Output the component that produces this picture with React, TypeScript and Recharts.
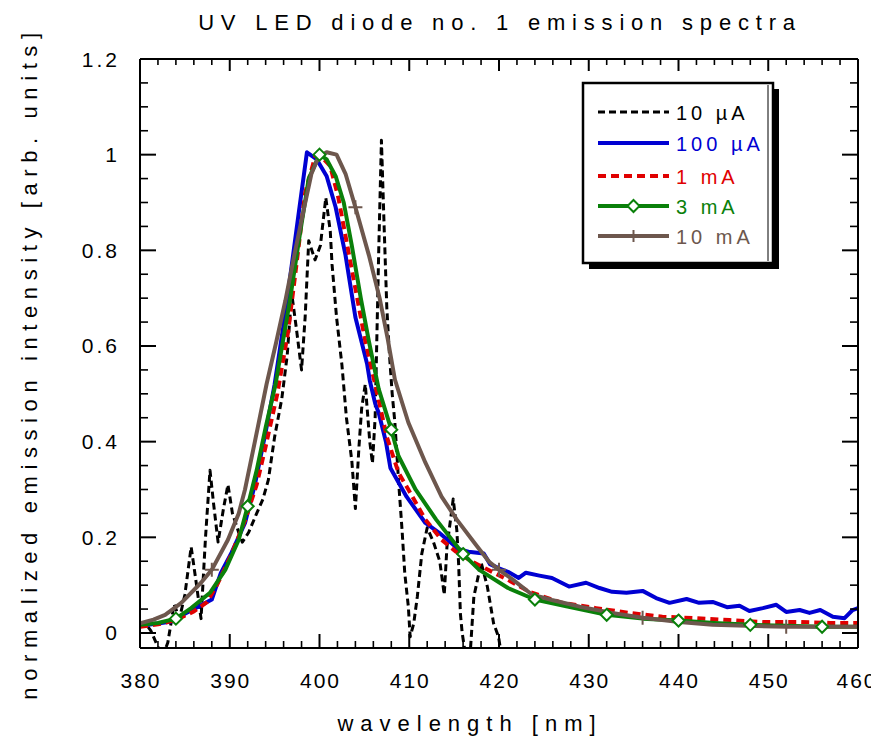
import React from 'react';
import { LineChart, Line, XAxis, YAxis } from 'recharts';

const W = 871;
const H = 733;
const FONT = '"Liberation Sans", Arial, Helvetica, sans-serif';

// ---- data: 10 µA (noisy, dashed black) ----
const wl10uA = [380, 380.6, 381.2, 381.9, 382.5, 383.1, 383.8, 384.4, 385.0, 385.7, 386.3, 386.8, 387.3, 387.8, 388.2, 388.7, 389.3, 389.8, 390.3, 391.0, 391.4, 392.1, 393.0, 393.7, 394.3, 395.0, 395.8, 396.4, 396.9, 397.4, 398.0, 398.4, 398.8, 399.5, 400.1, 400.7, 401.2, 401.4, 401.9, 402.5, 403.0, 403.6, 404.0, 404.4, 404.7, 405.1, 405.6, 405.9, 406.2, 406.6, 406.9, 407.2, 407.5, 407.8, 408.1, 408.4, 408.8, 409.2, 409.5, 409.9, 410.1, 410.5, 410.9, 411.4, 412.0, 412.7, 413.4, 413.9, 414.2, 414.9, 415.3, 415.5, 415.7, 415.9, 416.3, 416.8, 417.2, 417.7, 418.0, 418.7, 419.4, 419.95, 420.3];
const int10uA = [0.012, 0.02, 0.005, -0.025, -0.05, -0.02, 0.06, 0.03, 0.08, 0.18, 0.1, 0.03, 0.2, 0.34, 0.27, 0.19, 0.26, 0.31, 0.25, 0.21, 0.19, 0.21, 0.25, 0.28, 0.32, 0.41, 0.49, 0.58, 0.71, 0.64, 0.55, 0.66, 0.82, 0.78, 0.81, 0.91, 0.84, 0.77, 0.66, 0.56, 0.45, 0.36, 0.26, 0.39, 0.47, 0.52, 0.4, 0.355, 0.45, 0.8, 1.03, 0.85, 0.68, 0.58, 0.5, 0.44, 0.32, 0.215, 0.125, 0.055, -0.008, 0.02, 0.076, 0.166, 0.22, 0.19, 0.15, 0.08, 0.18, 0.28, 0.215, 0.145, 0.04, 0.0, -0.05, -0.04, 0.076, 0.12, 0.148, 0.097, 0.02, -0.008, -0.05];

// ---- data: 100 µA (blue) ----
const wl100uA = [380, 382, 383.5, 385, 386.5, 388, 389, 390.2, 391.7, 392.8, 394, 395, 396.2, 397.7, 398.6, 399.7, 400.8, 401.8, 402.9, 404, 405.3, 405.6, 406.2, 406.6, 407.4, 407.9, 409.7, 411.8, 413.3, 415.5, 416.6, 418.3, 419.0, 420, 421, 422.2, 423, 424.5, 425.9, 427.8, 429.7, 431.2, 432.6, 434.2, 436, 437.5, 439, 440.9, 442.3, 443.8, 445.4, 446.8, 447.9, 449.4, 450.9, 452, 453.5, 454.6, 455.8, 457.2, 458.5, 459.4, 460];
const int100uA = [0.015, 0.02, 0.024, 0.04, 0.055, 0.07, 0.125, 0.168, 0.23, 0.31, 0.42, 0.52, 0.67, 0.88, 1.005, 0.99, 0.955, 0.89, 0.79, 0.66, 0.563, 0.528, 0.48, 0.46, 0.4, 0.345, 0.285, 0.23, 0.21, 0.175, 0.17, 0.166, 0.144, 0.135, 0.128, 0.115, 0.126, 0.12, 0.115, 0.097, 0.105, 0.094, 0.086, 0.084, 0.088, 0.073, 0.063, 0.071, 0.063, 0.065, 0.054, 0.057, 0.046, 0.052, 0.059, 0.044, 0.048, 0.042, 0.048, 0.034, 0.031, 0.048, 0.052];

// ---- data: 1 mA (red dashed) ----
const wl1mA = [380, 382, 384, 386, 387.5, 388.7, 390.2, 391.7, 393, 394, 395.3, 396.5, 397.3, 398.4, 399.5, 400, 401.2, 402.1, 403, 404, 405.1, 406.2, 407.5, 408.8, 409.9, 411.8, 413.6, 415.2, 417, 421, 423.4, 427, 430.8, 434.5, 438.2, 442, 445.7, 449.4, 453.2, 456.9, 460];
const int1mA = [0.013, 0.018, 0.027, 0.045, 0.065, 0.105, 0.165, 0.235, 0.31, 0.39, 0.5, 0.63, 0.75, 0.92, 0.995, 1.0, 0.976, 0.91, 0.82, 0.72, 0.61, 0.52, 0.41, 0.335, 0.3, 0.237, 0.195, 0.17, 0.149, 0.111, 0.086, 0.063, 0.052, 0.042, 0.034, 0.031, 0.027, 0.023, 0.023, 0.021, 0.021];

// ---- data: 3 mA (green, diamond markers) ----
const wl3mA = [380, 382, 384, 385.7, 387.8, 389.5, 391, 392, 393, 394, 395.1, 396.7, 397.7, 398.8, 400, 400.8, 401.8, 402.7, 403.6, 404.6, 405.5, 406.6, 408, 408.8, 410.7, 413, 416, 417.8, 421, 424, 427.5, 432, 436, 440, 444, 448, 452, 456, 460];
const int3mA = [0.017, 0.021, 0.03, 0.052, 0.084, 0.132, 0.195, 0.265, 0.34, 0.43, 0.52, 0.695, 0.82, 0.95, 1.0, 0.99, 0.955, 0.9, 0.81, 0.7, 0.61, 0.51, 0.425, 0.37, 0.3, 0.237, 0.165, 0.132, 0.094, 0.07, 0.056, 0.038, 0.03, 0.026, 0.021, 0.017, 0.015, 0.013, 0.013];
const markers3mA = [384, 392, 400, 408, 416, 424, 432, 440, 448, 456];

// ---- data: 10 mA (brown, cross markers) ----
const wl10mA = [380, 381.5, 382.8, 384.6, 386.8, 388, 389.8, 391, 391.7, 392.8, 394.1, 395.2, 396.2, 397.3, 398.3, 399.1, 399.9, 400.8, 401.9, 402.9, 404, 405.5, 406.7, 407.6, 408.4, 409.9, 411.8, 413.6, 415.3, 417.4, 418.9, 420, 421.5, 423.7, 425.9, 429, 432.6, 436, 440.1, 443.8, 447.6, 452, 455, 460];
const int10mA = [0.02, 0.028, 0.038, 0.063, 0.105, 0.132, 0.195, 0.25, 0.3, 0.4, 0.52, 0.61, 0.695, 0.8, 0.89, 0.96, 0.995, 1.005, 1.0, 0.96, 0.89, 0.79, 0.7, 0.615, 0.53, 0.44, 0.356, 0.285, 0.237, 0.185, 0.149, 0.132, 0.112, 0.08, 0.069, 0.055, 0.042, 0.032, 0.023, 0.017, 0.015, 0.013, 0.013, 0.013];
const markers10mA = [388, 404, 420, 436, 452];

// ---- axes ----
const xTicks = [380, 382, 384, 386, 388, 390, 392, 394, 396, 398, 400, 402, 404, 406, 408, 410, 412, 414, 416, 418, 420, 422, 424, 426, 428, 430, 432, 434, 436, 438, 440, 442, 444, 446, 448, 450, 452, 454, 456, 458, 460];
const xLabels = [380, 390, 400, 410, 420, 430, 440, 450, 460];
const yTicks = [0, 0.05, 0.1, 0.15, 0.2, 0.25, 0.3, 0.35, 0.4, 0.45, 0.5, 0.55, 0.6, 0.65, 0.7, 0.75, 0.8, 0.85, 0.9, 0.95, 1, 1.05, 1.1, 1.15, 1.2];
const yLabels = ['0', '0.2', '0.4', '0.6', '0.8', '1', '1.2'];

const toPoints = (xs: number[], ys: number[]) => xs.map((x, i) => ({ x, y: ys[i] }));

const series = [
  { name: '10 µA', color: '#000000', dash: '7 4', width: 3, data: toPoints(wl10uA, int10uA), marker: 'none' },
  { name: '100 µA', color: '#0000d2', dash: undefined, width: 4, data: toPoints(wl100uA, int100uA), marker: 'none' },
  { name: '1 mA', color: '#e00000', dash: '8 5', width: 4, data: toPoints(wl1mA, int1mA), marker: 'none' },
  { name: '3 mA', color: '#0a800a', dash: undefined, width: 4, data: toPoints(wl3mA, int3mA), marker: 'diamond' },
  { name: '10 mA', color: '#6d574d', dash: undefined, width: 4, data: toPoints(wl10mA, int10mA), marker: 'cross' },
];

const isMajorX = (v: number) => xLabels.includes(v);
const yLabelFor = (v: number) => yLabels.find((l) => Math.abs(parseFloat(l) - v) < 1e-6);

const BottomTick = (props: any) => {
  const { x, y, payload } = props;
  const v = payload.value;
  const major = isMajorX(v);
  return (
    <g>
      <line x1={x} y1={y} x2={x} y2={y - (major ? 14 : 7)} stroke="#000" strokeWidth={major ? 2 : 1.6} />
      {major && (
        <text x={v === 460 ? x - 1 : x + 1} y={y + 40} textAnchor="middle" fontSize={21} letterSpacing={2} fontFamily={FONT} fill="#000">
          {v}
        </text>
      )}
    </g>
  );
};

const TopTick = (props: any) => {
  const { x, y, payload } = props;
  const major = isMajorX(payload.value);
  return <line x1={x} y1={y} x2={x} y2={y + (major ? 12 : 6)} stroke="#000" strokeWidth={major ? 2 : 1.6} />;
};

const LeftTick = (props: any) => {
  const { x, y, payload } = props;
  const label = yLabelFor(payload.value);
  const major = label !== undefined;
  return (
    <g>
      <line x1={x} y1={y} x2={x + (major ? 16 : 8)} y2={y} stroke="#000" strokeWidth={major ? 2 : 1.6} />
      {major && (
        <text x={x - 20} y={y + 7.5} textAnchor="end" fontSize={21} letterSpacing={3} fontFamily={FONT} fill="#000">
          {label}
        </text>
      )}
    </g>
  );
};

const RightTick = (props: any) => {
  const { x, y, payload } = props;
  const major = yLabelFor(payload.value) !== undefined;
  return <line x1={x} y1={y} x2={x - (major ? 16 : 8)} y2={y} stroke="#000" strokeWidth={major ? 2 : 1.6} />;
};

const diamondDot = (markers: number[], color: string) => (props: any) => {
  const { cx, cy, payload, index } = props;
  if (!markers.includes(payload.x) || cx == null || cy == null) return <g key={`d${index}`} />;
  const s = 6;
  return (
    <path
      key={`d${index}`}
      d={`M${cx},${cy - s} L${cx + s},${cy} L${cx},${cy + s} L${cx - s},${cy} Z`}
      fill="#ffffff"
      stroke={color}
      strokeWidth={2}
    />
  );
};

const crossDot = (markers: number[], color: string) => (props: any) => {
  const { cx, cy, payload, index } = props;
  if (!markers.includes(payload.x) || cx == null || cy == null) return <g key={`c${index}`} />;
  const s = 7;
  return (
    <path key={`c${index}`} d={`M${cx - s},${cy} L${cx + s},${cy} M${cx},${cy - s} L${cx},${cy + s}`} stroke={color} strokeWidth={2} fill="none" />
  );
};

const LegendBox = () => {
  const left = 575;
  const top = 75;
  const rows = [104, 135, 168, 198, 228];
  return (
    <svg width={W} height={H} style={{ position: 'absolute', left: 0, top: 0, pointerEvents: 'none' }}>
      <rect x={left + 6} y={top + 6} width={190} height={180} fill="#000" />
      <rect x={left} y={top} width={190} height={180} fill="#fff" stroke="#000" strokeWidth={2.5} />
      <line x1={left + 185} y1={top + 2} x2={left + 185} y2={top + 178} stroke="#000" strokeWidth={1} />
      {series.map((s, i) => {
        const y = rows[i];
        const x1 = 590;
        const x2 = 661;
        const mx = (x1 + x2) / 2;
        return (
          <g key={s.name}>
            <line x1={x1} y1={y} x2={x2} y2={y} stroke={s.color} strokeWidth={s.width} strokeDasharray={s.dash} />
            {s.marker === 'diamond' && (
              <path d={`M${mx},${y - 6} L${mx + 6},${y} L${mx},${y + 6} L${mx - 6},${y} Z`} fill="#fff" stroke={s.color} strokeWidth={2} />
            )}
            {s.marker === 'cross' && <path d={`M${mx},${y - 6} L${mx},${y + 6}`} stroke={s.color} strokeWidth={2} />}
            <text x={668} y={y + 7.5} fontSize={20} letterSpacing={4} fontFamily={FONT} fill={s.color}>
              {s.name}
            </text>
          </g>
        );
      })}
    </svg>
  );
};

const Labels = () => (
  <svg width={W} height={H} style={{ position: 'absolute', left: 0, top: 0, pointerEvents: 'none' }}>
    <text x={492} y={22} textAnchor="middle" fontSize={22} letterSpacing={6.8} fontFamily={FONT} fill="#000">
      UV LED diode no. 1 emission spectra
    </text>
    <text x={462} y={723} textAnchor="middle" fontSize={22} letterSpacing={7} fontFamily={FONT} fill="#000">
      wavelength [nm]
    </text>
    <text
      transform="translate(29,355) rotate(-90)"
      x={0}
      y={0}
      textAnchor="middle"
      fontSize={22}
      letterSpacing={6.6}
      fontFamily={FONT}
      fill="#000"
    >
      normalized emission intensity [arb. units]
    </text>
  </svg>
);

export default function App() {
  return (
    <div style={{ position: 'relative', width: W, height: H, background: '#fff' }}>
      <LineChart width={W} height={H} margin={{ top: 41, right: 11, bottom: 53, left: 72 }} style={{ overflow: 'visible' }}>
        <XAxis
          xAxisId="bottom"
          dataKey="x"
          type="number"
          domain={[380, 460]}
          ticks={xTicks}
          allowDataOverflow
          orientation="bottom"
          height={40}
          tickSize={0}
          tickMargin={0}
          tickLine={false}
          axisLine={{ stroke: '#000', strokeWidth: 2 }}
          tick={<BottomTick />}
          interval={0}
        />
        <XAxis
          xAxisId="top"
          dataKey="x"
          type="number"
          domain={[380, 460]}
          ticks={xTicks}
          allowDataOverflow
          orientation="top"
          height={10}
          tickSize={0}
          tickMargin={0}
          tickLine={false}
          axisLine={{ stroke: '#000', strokeWidth: 2 }}
          tick={<TopTick />}
          interval={0}
        />
        <YAxis
          yAxisId="left"
          type="number"
          domain={[-0.0314, 1.2]}
          ticks={yTicks}
          allowDataOverflow
          orientation="left"
          width={60}
          tickSize={0}
          tickMargin={0}
          tickLine={false}
          axisLine={{ stroke: '#000', strokeWidth: 2 }}
          tick={<LeftTick />}
          interval={0}
        />
        <YAxis
          yAxisId="right"
          type="number"
          domain={[-0.0314, 1.2]}
          ticks={yTicks}
          allowDataOverflow
          orientation="right"
          width={10}
          tickSize={0}
          tickMargin={0}
          tickLine={false}
          axisLine={{ stroke: '#000', strokeWidth: 2 }}
          tick={<RightTick />}
          interval={0}
        />
        {series.map((s) => (
          <Line
            key={s.name}
            xAxisId="bottom"
            yAxisId="left"
            data={s.data}
            dataKey="y"
            name={s.name}
            type="linear"
            stroke={s.color}
            strokeWidth={s.width}
            strokeDasharray={s.dash}
            strokeLinejoin="round"
            isAnimationActive={false}
            activeDot={false}
            dot={s.marker === 'diamond' ? diamondDot(markers3mA, s.color) : s.marker === 'cross' ? crossDot(markers10mA, s.color) : false}
          />
        ))}
      </LineChart>
      <Labels />
      <LegendBox />
    </div>
  );
}
